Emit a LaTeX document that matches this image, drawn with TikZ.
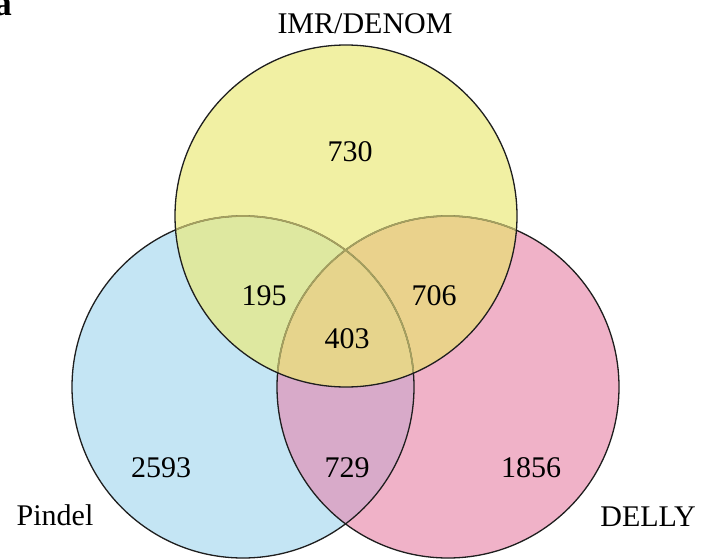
\documentclass[tikz,border=0pt]{standalone}
\usepackage{fontspec}
\setmainfont{Liberation Serif}
\definecolor{cyel}{RGB}{241,240,163}
\definecolor{cblu}{RGB}{196,229,244}
\definecolor{cpnk}{RGB}{240,178,200}
\definecolor{cbp}{RGB}{216,170,201}
\definecolor{cyb}{RGB}{222,232,160}
\definecolor{cyp}{RGB}{234,210,140}
\definecolor{call}{RGB}{230,212,140}
\definecolor{cedge}{RGB}{30,30,30}
\definecolor{cfaint}{RGB}{165,160,95}
\begin{document}
\begin{tikzpicture}[x=1pt,y=-1pt,
  lbl/.style={font=\fontsize{30}{36}\selectfont, inner sep=0pt, anchor=base},
  edge/.style={draw=cedge, line width=1.3pt},
  faint/.style={draw=cfaint, line width=1.7pt}]
\useasboundingbox (0,0) rectangle (708,559);
\coordinate (Y) at (346,216);
\coordinate (B) at (243,387);
\coordinate (P) at (448,387);
\def\R{171}
% base fills
\fill[cblu] (B) circle (\R);
\fill[cpnk] (P) circle (\R);
\fill[cyel] (Y) circle (\R);
\begin{scope}
  \clip (B) circle (\R);
  \fill[cbp] (P) circle (\R);
  \fill[cyb] (Y) circle (\R);
\end{scope}
\begin{scope}
  \clip (P) circle (\R);
  \fill[cyp] (Y) circle (\R);
\end{scope}
\begin{scope}
  \clip (P) circle (\R);
  \clip (B) circle (\R);
  \fill[call] (Y) circle (\R);
\end{scope}
% outlines
\draw[edge] (B) circle (\R);
\draw[edge] (P) circle (\R);
\begin{scope}
  \clip (Y) circle (\R-0.6);
  \draw[faint] (B) circle (\R);
  \draw[faint] (P) circle (\R);
\end{scope}
\draw[edge] (Y) circle (\R);
% labels
\node[lbl] (lY) at (365,34) {IMR/DENOM};
\node[lbl] (lB) at (55,525) {Pindel};
\node[lbl] (lP) at (648,526) {DELLY};
\node[lbl] (n730) at (350,161) {730};
\node[lbl] (n195) at (264,305) {195};
\node[lbl] (n706) at (434,305) {706};
\node[lbl] (n403) at (347,348) {403};
\node[lbl] (n2593) at (161,477) {2593};
\node[lbl] (n729) at (347,477) {729};
\node[lbl] (n1856) at (531,477) {1856};
\node[font=\fontsize{36}{40}\bfseries, inner sep=0pt, anchor=base east] (pa) at (12,16) {a};
\end{tikzpicture}
\end{document}
